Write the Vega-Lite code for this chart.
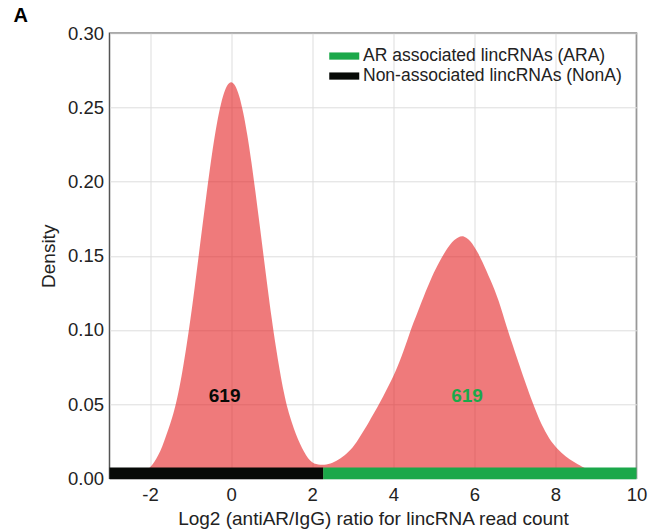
{
  "$schema": "https://vega.github.io/schema/vega-lite/v6.json",
  "width": 527,
  "height": 445,
  "autosize": {"type": "none"},
  "padding": {"left": 109.5, "top": 33.3, "right": 11.5, "bottom": 52.7},
  "config": {
    "font": "Liberation Sans",
    "view": {"stroke": "#555555", "strokeWidth": 1.5},
    "axis": {"gridColor": "#dddddd", "gridWidth": 1, "ticks": false, "domain": false, "labelColor": "#222222", "titleColor": "#222222", "titleFontWeight": "normal"}
  },
  "title": {"text": "A", "anchor": "start", "frame": "group", "fontSize": 20, "fontWeight": "bold", "color": "#000000", "dx": -96, "dy": 12, "offset": 10},
  "datasets": {
    "curve": [
      {"x": -2.6, "d": 0.0004}, {"x": -2.5, "d": 0.0007}, {"x": -2.4, "d": 0.0012}, {"x": -2.3, "d": 0.0020},
      {"x": -2.2, "d": 0.0033}, {"x": -2.1, "d": 0.0050}, {"x": -2.0, "d": 0.0074}, {"x": -1.9, "d": 0.0108},
      {"x": -1.8, "d": 0.0155}, {"x": -1.7, "d": 0.0215}, {"x": -1.6, "d": 0.0290}, {"x": -1.5, "d": 0.0370},
      {"x": -1.4, "d": 0.0462}, {"x": -1.3, "d": 0.0580}, {"x": -1.2, "d": 0.0725}, {"x": -1.1, "d": 0.0893},
      {"x": -1.0, "d": 0.1080}, {"x": -0.9, "d": 0.1285}, {"x": -0.8, "d": 0.1500}, {"x": -0.7, "d": 0.1717},
      {"x": -0.6, "d": 0.1930}, {"x": -0.5, "d": 0.2132}, {"x": -0.4, "d": 0.2312}, {"x": -0.3, "d": 0.2462},
      {"x": -0.2, "d": 0.2575}, {"x": -0.1, "d": 0.2646}, {"x": 0.0, "d": 0.2670}, {"x": 0.1, "d": 0.2646},
      {"x": 0.2, "d": 0.2575}, {"x": 0.3, "d": 0.2462}, {"x": 0.4, "d": 0.2312}, {"x": 0.5, "d": 0.2132},
      {"x": 0.6, "d": 0.1930}, {"x": 0.7, "d": 0.1717}, {"x": 0.8, "d": 0.1500}, {"x": 0.9, "d": 0.1285},
      {"x": 1.0, "d": 0.1080}, {"x": 1.1, "d": 0.0893}, {"x": 1.2, "d": 0.0727}, {"x": 1.3, "d": 0.0582},
      {"x": 1.4, "d": 0.0465}, {"x": 1.5, "d": 0.0374}, {"x": 1.6, "d": 0.0297}, {"x": 1.7, "d": 0.0233},
      {"x": 1.8, "d": 0.0179}, {"x": 1.9, "d": 0.0136}, {"x": 2.0, "d": 0.0109}, {"x": 2.1, "d": 0.0096},
      {"x": 2.2, "d": 0.0091}, {"x": 2.3, "d": 0.0092}, {"x": 2.4, "d": 0.0097}, {"x": 2.5, "d": 0.0105},
      {"x": 2.6, "d": 0.0118}, {"x": 2.7, "d": 0.0135}, {"x": 2.8, "d": 0.0155}, {"x": 2.9, "d": 0.0180},
      {"x": 3.0, "d": 0.0210}, {"x": 3.1, "d": 0.0246}, {"x": 3.2, "d": 0.0290}, {"x": 3.3, "d": 0.0334},
      {"x": 3.4, "d": 0.0380}, {"x": 3.5, "d": 0.0428}, {"x": 3.6, "d": 0.0476}, {"x": 3.7, "d": 0.0526},
      {"x": 3.8, "d": 0.0578}, {"x": 3.9, "d": 0.0632}, {"x": 4.0, "d": 0.0688}, {"x": 4.1, "d": 0.0750},
      {"x": 4.2, "d": 0.0820}, {"x": 4.3, "d": 0.0895}, {"x": 4.4, "d": 0.0975}, {"x": 4.5, "d": 0.1050},
      {"x": 4.6, "d": 0.1120}, {"x": 4.7, "d": 0.1190}, {"x": 4.8, "d": 0.1260}, {"x": 4.9, "d": 0.1324},
      {"x": 5.0, "d": 0.1385}, {"x": 5.1, "d": 0.1440}, {"x": 5.2, "d": 0.1490}, {"x": 5.3, "d": 0.1536},
      {"x": 5.4, "d": 0.1574}, {"x": 5.5, "d": 0.1604}, {"x": 5.6, "d": 0.1624}, {"x": 5.7, "d": 0.1631},
      {"x": 5.8, "d": 0.1621}, {"x": 5.9, "d": 0.1598}, {"x": 6.0, "d": 0.1560}, {"x": 6.1, "d": 0.1513},
      {"x": 6.2, "d": 0.1458}, {"x": 6.3, "d": 0.1398}, {"x": 6.4, "d": 0.1335}, {"x": 6.5, "d": 0.1270},
      {"x": 6.6, "d": 0.1195}, {"x": 6.7, "d": 0.1110}, {"x": 6.8, "d": 0.1020}, {"x": 6.9, "d": 0.0935},
      {"x": 7.0, "d": 0.0853}, {"x": 7.1, "d": 0.0772}, {"x": 7.2, "d": 0.0692}, {"x": 7.3, "d": 0.0614},
      {"x": 7.4, "d": 0.0538}, {"x": 7.5, "d": 0.0467}, {"x": 7.6, "d": 0.0400}, {"x": 7.7, "d": 0.0343},
      {"x": 7.8, "d": 0.0292}, {"x": 7.9, "d": 0.0248}, {"x": 8.0, "d": 0.0215}, {"x": 8.1, "d": 0.0185},
      {"x": 8.2, "d": 0.0160}, {"x": 8.3, "d": 0.0138}, {"x": 8.4, "d": 0.0120}, {"x": 8.5, "d": 0.0103},
      {"x": 8.6, "d": 0.0088}, {"x": 8.7, "d": 0.0073}, {"x": 8.8, "d": 0.0060}, {"x": 8.9, "d": 0.0048},
      {"x": 9.0, "d": 0.0038}, {"x": 9.2, "d": 0.0022}, {"x": 9.4, "d": 0.0012}, {"x": 9.6, "d": 0.0005}
    ],
    "bars": [
      {"group": "Non-associated lincRNAs (NonA)", "start": -3, "end": 2.27},
      {"group": "AR associated lincRNAs (ARA)", "start": 2.27, "end": 10}
    ],
    "labels": [
      {"group": "Non-associated lincRNAs (NonA)", "x": -0.16, "y": 0.0554, "label": "619"},
      {"group": "AR associated lincRNAs (ARA)", "x": 5.82, "y": 0.0552, "label": "619"}
    ]
  },
  "layer": [
    {
      "data": {"name": "curve"},
      "mark": {"type": "area", "color": "#e41a1c", "opacity": 0.58, "interpolate": "monotone"},
      "encoding": {
        "x": {"field": "x", "type": "quantitative", "scale": {"domain": [-3, 10], "nice": false, "zero": false},
          "axis": {"values": [-2, 0, 2, 4, 6, 8, 10], "labelExpr": "'' + datum.value", "grid": true, "labelFlush": false, "labelFontSize": 18.5, "labelPadding": 7,
            "title": "Log2 (antiAR/IgG) ratio for lincRNA read count", "titleFontSize": 19, "titlePadding": 6}},
        "y": {"field": "d", "type": "quantitative", "scale": {"domain": [0, 0.3], "nice": false},
          "axis": {"values": [0, 0.05, 0.1, 0.15, 0.2, 0.25, 0.3], "format": ".2f", "grid": true, "labelFontSize": 18.5, "labelPadding": 6,
            "title": "Density", "titleFontSize": 19, "titlePadding": 9}}
      }
    },
    {
      "data": {"name": "bars"},
      "mark": {"type": "rect", "opacity": 1},
      "encoding": {
        "x": {"field": "start", "type": "quantitative"},
        "x2": {"field": "end"},
        "y": {"datum": -0.0006},
        "y2": {"datum": 0.0073},
        "color": {"field": "group", "type": "nominal",
          "scale": {"domain": ["AR associated lincRNAs (ARA)", "Non-associated lincRNAs (NonA)"], "range": ["#1ba84a", "#070a07"]},
          "legend": {"title": null, "orient": "top-right", "offset": 14, "padding": 0,
            "symbolType": "M-3.75,-0.9H3.75V0.9H-3.75Z", "symbolSize": 64, "symbolOffset": 24, "labelOffset": 10, "labelLimit": 500,
            "symbolStrokeWidth": 0, "symbolOpacity": 1, "labelFontSize": 17.5, "labelColor": "#222222", "rowPadding": 1}}
      }
    },
    {
      "data": {"name": "labels"},
      "mark": {"type": "text", "fontWeight": "bold", "fontSize": 19, "align": "center", "baseline": "middle"},
      "encoding": {
        "x": {"field": "x", "type": "quantitative"},
        "y": {"field": "y", "type": "quantitative"},
        "text": {"field": "label"},
        "color": {"field": "group", "type": "nominal", "legend": null}
      }
    }
  ]
}
